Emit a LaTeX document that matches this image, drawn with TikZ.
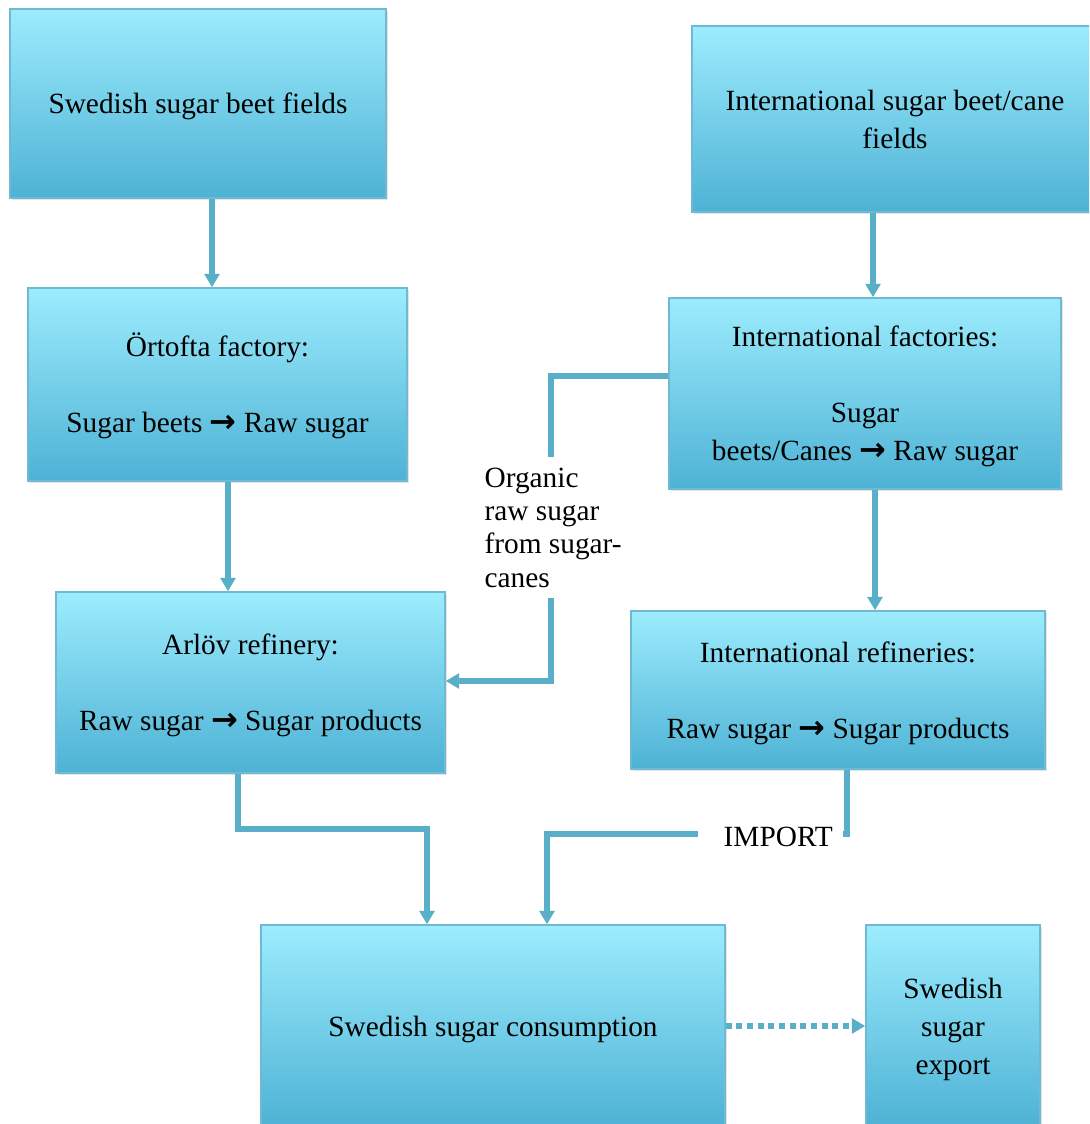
\documentclass[tikz,border=0pt]{standalone}
\usepackage{fontspec}
\setmainfont{Liberation Serif}
\newfontfamily\symfont{DejaVu Sans}
\usetikzlibrary{arrows.meta,calc,shadows}
\definecolor{boxtop}{HTML}{9CECFD}
\definecolor{boxbot}{HTML}{4EB2D5}
\definecolor{boxline}{HTML}{6FBAD2}
\definecolor{conncol}{HTML}{5AAFC8}
\newcommand\boxfont{\fontsize{22}{28.5}\selectfont}
\newcommand\labfont{\fontsize{22}{25}\selectfont}
\newcommand\arr{{\symfont\bfseries\fontsize{24}{24}\selectfont →}}
\newcommand\st{\rule[-4.9pt]{0pt}{25pt}}
\begin{document}
\begin{tikzpicture}[x=0.75pt,y=-0.75pt,
  flowbox/.style n args={2}{draw=boxline, line width=1.1pt, top color=boxtop, bottom color=boxbot,
    minimum width=#1*0.75pt, minimum height=#2*0.75pt, align=center, font=\boxfont, inner sep=0pt,
    drop shadow={shadow xshift=1.5pt, shadow yshift=-1.5pt, opacity=0.2}},
  conn/.style={draw=conncol, line width=3.8pt, -{Triangle[width=11pt,length=10pt]}},
  dotconn/.style={conn, dash pattern=on 4.5pt off 3.5pt},
  lab/.style={fill=white, font=\labfont}]
\useasboundingbox (0,0) rectangle (1089,1124);
\clip (0,0) rectangle (1089,1124);
\fill[white] (0,0) rectangle (1089,1124);

\node[flowbox={376}{189}] (b1) at (198,103.5) {\st Swedish sugar beet fields};
\node[flowbox={406}{186}] (b2) at (895,119) {\st International sugar beet/cane\\\st fields};
\node[flowbox={379}{193}] (b3) at (217.5,384.5) {\st Örtofta factory:\\~\\\st Sugar beets \arr{} Raw sugar};
\node[flowbox={392}{191}] (b4) at (865,393.5) {\st International factories:\\~\\Sugar\\\st beets/Canes \arr{} Raw sugar};
\node[flowbox={389}{181}] (b5) at (250.5,682.5) {\st Arlöv refinery:\\~\\\st Raw sugar \arr{} Sugar products};
\node[flowbox={414}{158}] (b6) at (838,690) {\st International refineries:\\~\\\st Raw sugar \arr{} Sugar products};
\node[flowbox={464}{202}] (b7) at (493,1026) {\st Swedish sugar consumption};
\node[flowbox={174}{202}] (b8) at (953,1026) {\st Swedish\\sugar\\\st export};

\draw[conn] (b1.south -| 212,0) -- (b3.north -| 212,0);
\draw[conn] (b2.south -| 873,0) -- (b4.north -| 873,0);
\draw[conn] (b3.south -| 228,0) -- (b5.north -| 228,0);
\draw[conn] (b4.south -| 875,0) -- (b6.north -| 875,0);
\draw[conn] (b4.west |- 0,376) -- (551,376) -- (551,681) -- (b5.east |- 0,681);
\node[lab, align=left, inner xsep=4pt, inner ysep=8pt, anchor=west] (org) at (479,527.5)
  {Organic\\raw sugar\\from sugar-\\canes};
\draw[conn] (b5.south -| 238,0) -- (238,829) -- (427,829) -- (b7.north -| 427,0);
\draw[conn] (b6.south -| 847,0) -- (847,834) -- (547,834) -- (b7.north -| 547,0);
\node[lab, anchor=east, inner xsep=7.5pt, inner ysep=3pt, text width=93.75pt, align=right] (imp) at (843,837) {IMPORT};
\draw[dotconn] (b7.east) -- (b8.west);
\end{tikzpicture}
\end{document}
